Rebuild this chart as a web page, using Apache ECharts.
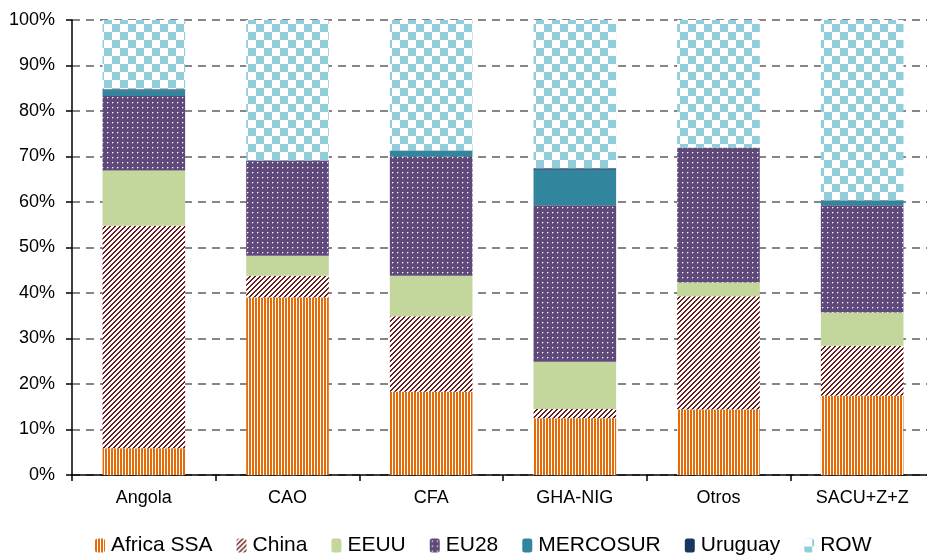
<!DOCTYPE html>
<html>
<head>
<meta charset="utf-8">
<title>Destino de exportaciones por región</title>
<script src="https://cdn.jsdelivr.net/npm/echarts@6/dist/echarts.min.js"></script>
<style>
  html, body { margin: 0; padding: 0; background: #fff; overflow: hidden; }
  /* the plot area runs slightly past the right edge of the window */
  #chart { width: 940px; height: 555px; }
</style>
</head>
<body>
<div id="chart"></div>
<script>
// Export shares by destination (%), one value per region
const categories = ['Angola', 'CAO', 'CFA', 'GHA-NIG', 'Otros', 'SACU+Z+Z'];
const africaSSA = [5.9, 39.0, 18.3, 12.5, 14.4, 17.4];
const china     = [48.9, 4.8, 16.6, 2.0, 24.9, 11.0];
const eeuu      = [12.1, 4.4, 8.9, 10.4, 3.0, 7.3];
const eu28      = [16.4, 20.9, 26.2, 34.4, 29.6, 23.6];
const mercosur  = [1.2, 0.1, 1.2, 7.8, 0.1, 1.0];
const uruguay   = [0.3, 0.0, 0.1, 0.3, 0.0, 0.1];
const row       = [15.2, 30.8, 28.7, 32.6, 28.0, 39.6];
const yTicks    = ['0%', '10%', '20%', '30%', '40%', '50%', '60%', '70%', '80%', '90%', '100%'];

// Small canvas tiles used as repeating fill patterns
function tile(w, h, draw) {
  const c = document.createElement('canvas');
  c.width = w; c.height = h;
  const ctx = c.getContext('2d');
  draw(ctx);
  return { image: c, repeat: 'repeat' };
}

const orangeStripes = tile(3, 4, ctx => {
  ctx.fillStyle = '#ffffff'; ctx.fillRect(0, 0, 3, 4);
  ctx.fillStyle = '#E46C0A'; ctx.fillRect(0, 0, 2, 4);
});

const diagStripes = tile(5, 5, ctx => {
  ctx.fillStyle = '#ffffff'; ctx.fillRect(0, 0, 5, 5);
  ctx.fillStyle = '#6A1C1C';
  for (let y = 0; y < 5; y++) {
    for (let x = 0; x < 5; x++) {
      // ascending diagonal bands, period 5 px
      if (((x + y) % 5) < 2) ctx.fillRect(x, y, 1, 1);
    }
  }
});

const purpleDots = tile(5, 5, ctx => {
  ctx.fillStyle = '#5F497A'; ctx.fillRect(0, 0, 5, 5);
  ctx.fillStyle = '#ffffff';
  ctx.fillRect(2, 2, 1, 1);
  ctx.fillStyle = 'rgba(255,255,255,0.35)';
  ctx.fillRect(3, 2, 1, 1);
  ctx.fillRect(2, 3, 1, 1);
});

const checker = tile(16, 16, ctx => {
  ctx.fillStyle = '#ffffff'; ctx.fillRect(0, 0, 16, 16);
  ctx.fillStyle = '#92CDDC';
  ctx.fillRect(8, 0, 8, 8);
  ctx.fillRect(0, 8, 8, 8);
});

const FONT = 'Liberation Sans, Arial, sans-serif';

function barSeries(name, data, color) {
  return {
    name: name,
    type: 'bar',
    stack: 'total',
    barWidth: '57.5%',
    data: data,
    itemStyle: { color: color },
    emphasis: { disabled: true }
  };
}

const chart = echarts.init(document.getElementById('chart'), null, { renderer: 'canvas' });

chart.setOption({
  animation: false,
  backgroundColor: '#ffffff',
  textStyle: { fontFamily: FONT },
  grid: { left: 72, top: 20, width: 862, height: 455, containLabel: false },
  legend: {
    left: 95,
    top: 535,
    padding: 0,
    itemGap: 24,
    itemWidth: 10,
    itemHeight: 14,
    selectedMode: false,
    textStyle: { fontFamily: FONT, fontSize: 21, color: '#000', padding: [0, 0, 0, 1] },
    data: ['Africa SSA', 'China', 'EEUU', 'EU28', 'MERCOSUR', 'Uruguay', 'ROW']
  },
  xAxis: {
    type: 'category',
    data: categories,
    axisLine: { lineStyle: { color: '#000', width: 1.5 } },
    axisTick: { show: true, length: 6, lineStyle: { color: '#000', width: 1.5 } },
    axisLabel: { fontFamily: FONT, fontSize: 18, color: '#000', margin: 14 }
  },
  yAxis: {
    type: 'value',
    min: 0,
    max: 100,
    interval: 10,
    axisLine: { show: true, lineStyle: { color: '#000', width: 1.5 } },
    axisTick: { show: true, length: 6, lineStyle: { color: '#000', width: 1.5 } },
    axisLabel: {
      fontFamily: FONT, fontSize: 18, color: '#000', margin: 17,
      formatter: v => yTicks[Math.round(v / 10)]
    },
    splitLine: {
      show: true,
      lineStyle: { color: '#868686', width: 2, type: [8, 6] }
    }
  },
  series: [
    barSeries('Africa SSA', africaSSA, orangeStripes),
    barSeries('China', china, diagStripes),
    barSeries('EEUU', eeuu, '#C3D69B'),
    barSeries('EU28', eu28, purpleDots),
    barSeries('MERCOSUR', mercosur, '#31859C'),
    barSeries('Uruguay', uruguay, '#17375E'),
    barSeries('ROW', row, checker)
  ]
});
</script>
</body>
</html>
